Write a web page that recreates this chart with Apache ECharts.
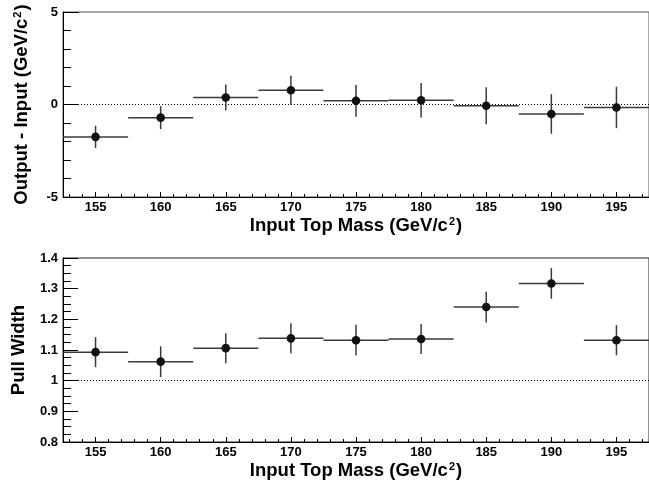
<!DOCTYPE html>
<html lang="en">
<head>
    <meta charset="UTF-8">
    <title>Top mass calibration</title>
    <style>
        html, body { margin: 0; padding: 0; background: #fff; }
        #main { width: 649px; height: 484px; }
    </style>
</head>
<body>
    <div id="main"></div>

    <script src="https://cdn.jsdelivr.net/npm/echarts@6.0.0/dist/echarts.min.js"></script>
    <script type="text/javascript">
        // input top masses (bin centres) and bin half width
        var masses = [155, 160, 165, 170, 175, 180, 185, 190, 195];
        var binHalfWidth = 2.5;

        // output - input (GeV/c^2)
        var biasVals = [-1.75, -0.71, 0.38, 0.77, 0.20, 0.23, -0.07, -0.51, -0.16];
        var biasErrs = [0.60, 0.62, 0.70, 0.78, 0.86, 0.93, 1.00, 1.07, 1.12];

        // pull width
        var pullVals = [1.093, 1.062, 1.106, 1.138, 1.132, 1.136, 1.240, 1.317, 1.132];
        var pullErrs = [0.049, 0.050, 0.049, 0.049, 0.050, 0.049, 0.050, 0.050, 0.049];

        // tick positions on the mass axis
        var xMajorTicks = [155, 160, 165, 170, 175, 180, 185, 190, 195];
        var xMinorTicks = [153, 154, 156, 157, 158, 159, 161, 162, 163, 164, 166, 167, 168, 169,
                           171, 172, 173, 174, 176, 177, 178, 179, 181, 182, 183, 184, 186, 187,
                           188, 189, 191, 192, 193, 194, 196, 197];

        var FONT = 'Liberation Sans, Arial, Helvetica, sans-serif';
        var xTitle = 'Input Top Mass (GeV/c{s|2})';
        var supStyle = { s: { fontSize: 11, fontWeight: 'bold', fontFamily: FONT, color: '#000', verticalAlign: 'top', padding: [0, 1, 0, 1] } };

        function rows(vals, errs) {
            var out = [];
            for (var i = 0; i < masses.length; i++) {
                out.push([masses[i], vals[i], errs[i], binHalfWidth]);
            }
            return out;
        }

        function renderErr(params, api) {
            var x = api.value(0), y = api.value(1), e = api.value(2), hw = api.value(3);
            var pl = api.coord([x - hw, y]), pr = api.coord([x + hw, y]);
            var pt = api.coord([x, y + e]), pb = api.coord([x, y - e]);
            var pc = api.coord([x, y]);
            var st = { stroke: '#3a3a3a', lineWidth: 1.5 };
            return {
                type: 'group',
                children: [
                    { type: 'line', shape: { x1: pl[0], y1: pl[1], x2: pr[0], y2: pr[1] }, style: st },
                    { type: 'line', shape: { x1: pt[0], y1: pt[1], x2: pb[0], y2: pb[1] }, style: st },
                    { type: 'circle', shape: { cx: pc[0], cy: pc[1], r: 4.3 }, style: { fill: '#111' } }
                ]
            };
        }

        function massAxes(gridIndex) {
            return [{
                type: 'value', gridIndex: gridIndex, position: 'bottom',
                min: 152.5, max: 197.5,
                name: xTitle, nameLocation: 'middle', nameGap: 19,
                nameTextStyle: { fontSize: 18.5, fontWeight: 'bold', fontFamily: FONT, color: '#000', rich: supStyle },
                axisLine: { onZero: false, lineStyle: { color: '#000', width: 1 } },
                axisTick: { inside: true, length: 5, customValues: xMajorTicks, lineStyle: { color: '#000' } },
                axisLabel: { customValues: xMajorTicks, margin: 4, fontSize: 13, fontWeight: 'bold', fontFamily: FONT, color: '#000' },
                splitLine: { show: false }
            }, {
                type: 'value', gridIndex: gridIndex, position: 'bottom',
                min: 152.5, max: 197.5,
                axisLine: { show: false, onZero: false },
                axisTick: { inside: true, length: 3, customValues: xMinorTicks, lineStyle: { color: '#000' } },
                axisLabel: { show: false },
                splitLine: { show: false }
            }];
        }

        var myChart = echarts.init(document.getElementById('main'));
        var option = {
            animation: false,
            backgroundColor: '#fff',
            grid: [
                { left: 63, top: 12, width: 588, height: 185, show: true, borderColor: '#555', borderWidth: 1 },
                { left: 63, top: 258, width: 588, height: 184, show: true, borderColor: '#222', borderWidth: 1 }
            ],
            xAxis: massAxes(0).concat(massAxes(1)),
            yAxis: [{
                type: 'value', gridIndex: 0, min: -5, max: 5, interval: 5,
                name: 'Output - Input (GeV/c{s|2})', nameLocation: 'middle', nameGap: 32,
                nameTextStyle: { fontSize: 18.5, fontWeight: 'bold', fontFamily: FONT, color: '#000', rich: supStyle },
                axisLine: { show: true, onZero: false, lineStyle: { color: '#000', width: 1 } },
                axisTick: { inside: true, length: 16, lineStyle: { color: '#000' } },
                minorTick: { show: true, splitNumber: 5, length: 8, lineStyle: { color: '#000' } },
                axisLabel: { margin: 5, fontSize: 13, fontWeight: 'bold', fontFamily: FONT, color: '#000' },
                splitLine: { show: false }
            }, {
                type: 'value', gridIndex: 1, min: 0.8, max: 1.4, interval: 0.1,
                name: 'Pull Width', nameLocation: 'middle', nameGap: 35,
                nameTextStyle: { fontSize: 18.5, fontWeight: 'bold', fontFamily: FONT, color: '#000' },
                axisLine: { show: true, onZero: false, lineStyle: { color: '#000', width: 1 } },
                axisTick: { inside: true, length: 15, lineStyle: { color: '#000' } },
                minorTick: { show: true, splitNumber: 4, length: 8, lineStyle: { color: '#000' } },
                axisLabel: {
                    margin: 5, fontSize: 13, fontWeight: 'bold', fontFamily: FONT, color: '#000',
                    formatter: function (v) { return Math.abs(v - 1) < 1e-9 ? '1' : v.toFixed(1); }
                },
                splitLine: { show: false }
            }],
            series: [{
                name: 'bias', type: 'custom', xAxisIndex: 0, yAxisIndex: 0,
                renderItem: renderErr, data: rows(biasVals, biasErrs),
                markLine: {
                    silent: true, symbol: 'none', label: { show: false },
                    lineStyle: { type: [1, 2], color: '#000', width: 1 },
                    data: [{ yAxis: 0 }]
                }
            }, {
                name: 'pull', type: 'custom', xAxisIndex: 2, yAxisIndex: 1,
                renderItem: renderErr, data: rows(pullVals, pullErrs),
                markLine: {
                    silent: true, symbol: 'none', label: { show: false },
                    lineStyle: { type: [1, 2], color: '#000', width: 1 },
                    data: [{ yAxis: 1 }]
                }
            }]
        };
        myChart.setOption(option);
    </script>
</body>
</html>
